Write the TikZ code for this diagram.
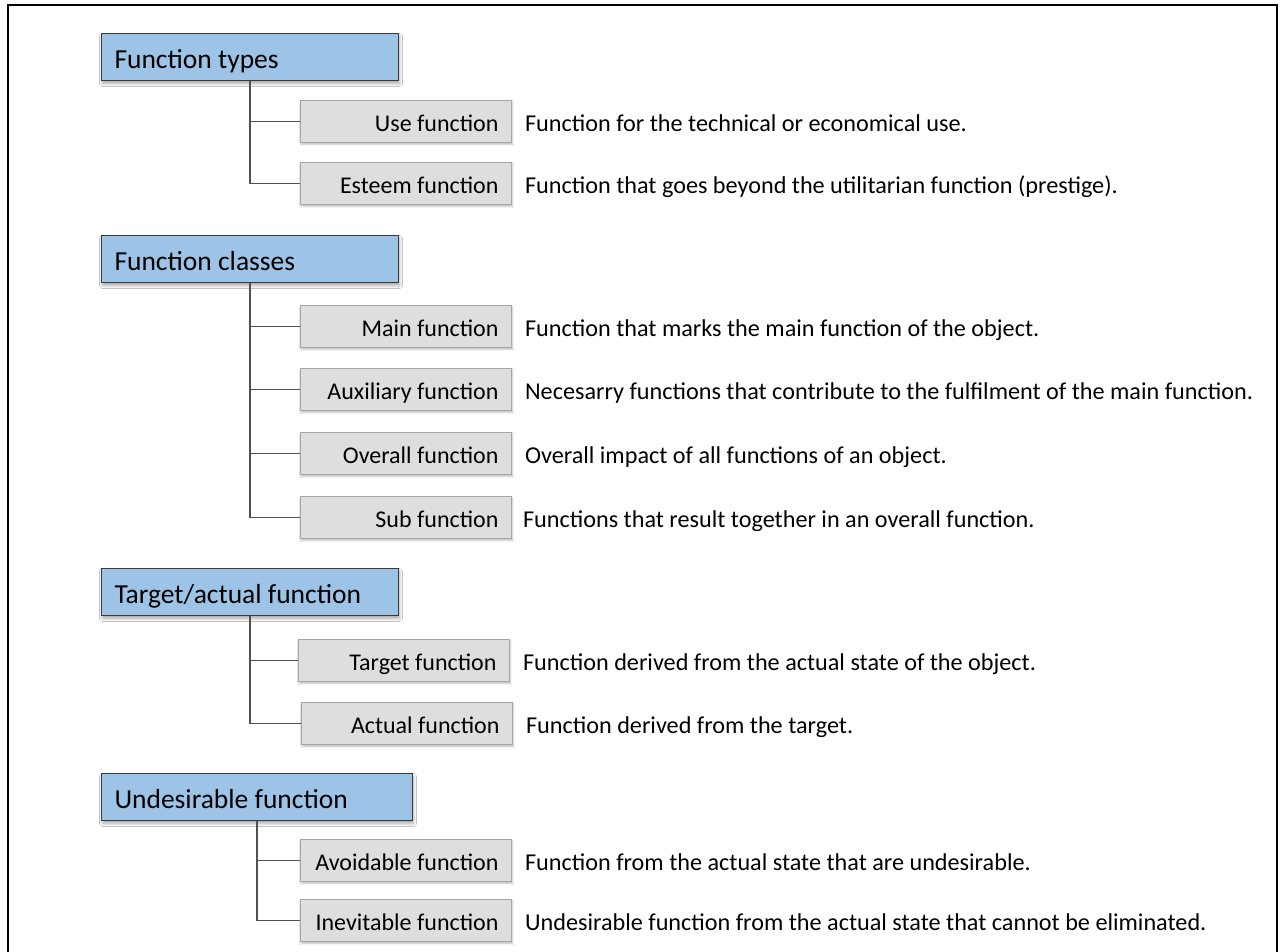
\documentclass[tikz,border=0pt]{standalone}
\usepackage{fontspec}
\setmainfont{Carlito}
\usetikzlibrary{shadows.blur}
\definecolor{headfill}{HTML}{9DC3E6}
\definecolor{headline}{HTML}{3A3A3A}
\definecolor{itemfill}{HTML}{DEDEDE}
\definecolor{itemline}{HTML}{A6A6A6}
\definecolor{linkcol}{HTML}{505050}
\begin{document}
\begin{tikzpicture}[x=1pt,y=-1pt,
  header/.style={draw=headline, line width=1pt, fill=headfill, anchor=north west,
    minimum height=47pt, inner xsep=13pt, inner ysep=0pt, align=flush left,
    text height=25pt, text depth=2pt,
    font=\fontsize{27.5}{31}\selectfont,
    blur shadow={shadow xshift=1pt, shadow yshift=-3pt, shadow blur radius=3pt, shadow blur steps=6, shadow opacity=35}},
  item/.style={draw=itemline, line width=0.9pt, fill=itemfill, anchor=north west,
    minimum height=42pt, text width=185pt, inner xsep=13pt, inner ysep=0pt, align=flush right,
    text height=22pt, text depth=2pt,
    font=\fontsize{24}{28}\selectfont,
    blur shadow={shadow xshift=1pt, shadow yshift=-2pt, shadow blur radius=1.5pt, shadow blur steps=4, shadow opacity=25}},
  desc/.style={anchor=base west, inner sep=0pt, xshift=13pt, font=\fontsize{24.2}{28}\selectfont},
  link/.style={draw=linkcol, line width=1.1pt}]
\useasboundingbox (0,0) rectangle (1282,952);
\fill[white] (0,0) rectangle (1282,952);
\draw[line width=2pt] (8,952) -- (8,5) -- (1277,5) -- (1277,952);

% Function types
\node[header, text width=271pt] (h1) at (101,33) {Function types};
\node[item] (use) at (300,100) {Use function};
\node[item] (est) at (300,162) {Esteem function};
\node[desc] (duse) at (use.base east) {Function for the technical or economical use.};
\node[desc] (dest) at (est.base east) {Function that goes beyond the utilitarian function (prestige).};
\draw[link] (h1.south) |- (use.west);
\draw[link] (h1.south) |- (est.west);

% Function classes
\node[header, text width=271pt] (h2) at (101,235) {Function classes};
\node[item] (main) at (300,305) {Main function};
\node[item] (aux) at (300,368) {Auxiliary function};
\node[item] (ovr) at (300,432) {Overall function};
\node[item] (sub) at (300,496) {Sub function};
\node[desc] (dmain) at (main.base east) {Function that marks the main function of the object.};
\node[desc] (daux) at (aux.base east) {Necesarry functions that contribute to the fulfilment of the main function.};
\node[desc] (dovr) at (ovr.base east) {Overall impact of all functions of an object.};
\node[desc, xshift=-2pt] (dsub) at (sub.base east) {Functions that result together in an overall function.};
\draw[link] (h2.south) |- (main.west);
\draw[link] (h2.south) |- (aux.west);
\draw[link] (h2.south) |- (ovr.west);
\draw[link] (h2.south) |- (sub.west);

% Target/actual function
\node[header, text width=271pt] (h3) at (101,568) {Target/actual function};
\node[item] (tgt) at (298,639) {Target function};
\node[item] (act) at (301,702) {Actual function};
\node[desc] (dtgt) at (tgt.base east) {Function derived from the actual state of the object.};
\node[desc] (dact) at (act.base east) {Function derived from the target.};
\draw[link] (h3.south) |- (tgt.west);
\draw[link] (h3.south) |- (act.west);

% Undesirable function
\node[header, text width=285pt] (h4) at (101,773) {Undesirable function};
\node[item] (avd) at (300,839) {Avoidable function};
\node[item] (inv) at (300,899) {Inevitable function};
\node[desc] (davd) at (avd.base east) {Function from the actual state that are undesirable.};
\node[desc] (dinv) at (inv.base east) {Undesirable function from the actual state that cannot be eliminated.};
\draw[link] (h4.south) |- (avd.west);
\draw[link] (h4.south) |- (inv.west);
\end{tikzpicture}
\end{document}
